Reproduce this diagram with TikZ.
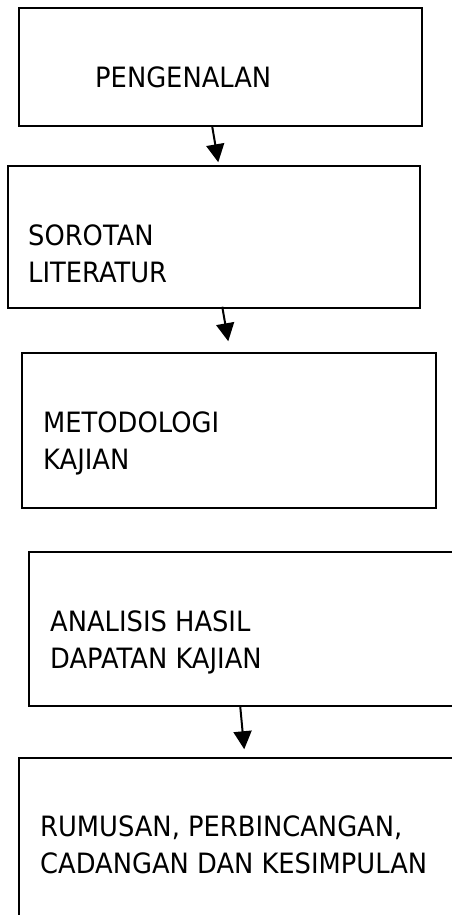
\documentclass[tikz,border=0pt]{standalone}
\usepackage{fontspec}
\setmainfont{DejaVu Sans}[FakeStretch=0.92]
\usepackage{tikz}
\usetikzlibrary{arrows.meta}
\usetikzlibrary{calc}

\begin{document}
\begin{tikzpicture}[x=1pt, y=-1pt,
        box_style/.style={rectangle,draw=black,line width=1.5pt,inner sep=0pt},
        text_style/.style={align=left,inner sep=0pt,anchor=base west,font=\fontsize{28pt}{37pt}\selectfont},
        arrow_style/.style={draw=black,line width=2pt,-{Triangle[length=18pt,width=18pt]}}]

        \path[use as bounding box, clip] (0,0) rectangle (452,915);

        \node [box_style,minimum width=403pt,minimum height=118pt](pengenalan) at (220.5,67) {};
        \node [box_style,minimum width=412pt,minimum height=142pt](sorotan) at (214,237) {};
        \node [box_style,minimum width=414pt,minimum height=155pt](metodologi) at (229,430.5) {};
        \node [box_style,minimum width=441pt,minimum height=154pt](analisis) at (249.5,629) {};
        \node [box_style,minimum width=451pt,minimum height=200pt](rumusan) at (244.5,858) {};

        % base anchor sits on the last line
        \node [text_style](t1) at (95,88) {PENGENALAN};
        \node [text_style](t2) at (28,282) {SOROTAN\\LITERATUR};
        \node [text_style](t3) at (43,469) {METODOLOGI\\KAJIAN};
        \node [text_style](t4) at (50,668) {ANALISIS HASIL\\DAPATAN KAJIAN};
        \node [text_style](t5) at (40,873) {RUMUSAN, PERBINCANGAN,\\CADANGAN DAN KESIMPULAN};

        \draw [arrow_style] ([xshift=194pt]pengenalan.south west) -- ([xshift=211pt,yshift=3pt]sorotan.north west);
        \draw [arrow_style] ([xshift=215pt,yshift=2pt]sorotan.south west) -- ([xshift=207pt,yshift=11pt]metodologi.north west);
        \draw [arrow_style] ([xshift=212pt]analisis.south west) -- ([xshift=226pt,yshift=8pt]rumusan.north west);
        \end{tikzpicture}
\end{document}
